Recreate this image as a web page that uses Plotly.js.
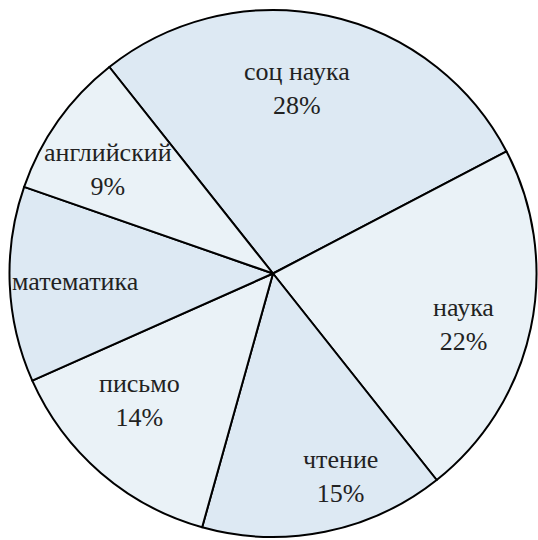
<!DOCTYPE html>
<html>
<head>
<meta charset="utf-8">
<script src="https://cdn.plot.ly/plotly-3.0.1.min.js"></script>
<style>
html,body{margin:0;padding:0;background:#fff;}
#chart{width:538px;height:540px;}
</style>
</head>
<body>
<div id="chart"></div>
<script>
// ---- data ----
var categories = ["соц наука", "наука", "чтение", "письмо", "математика", "английский"];
var shares = [28, 22, 15, 14, 12, 9];
var showPercent = [true, true, true, true, false, true];

// ---- styling ----
var sliceColors = ["#dde9f3", "#eaf2f7", "#dde9f3", "#eaf2f7", "#dde9f3", "#eaf2f7"];
var labelRadius = [0.71, 0.75, 0.81, 0.70, 0.75, 0.74];   // fraction of radius
var labelAngleNudge = [-4.5, 3, -7, 5.5, 0, -3];           // degrees
var startAngle = -38.4;
var W = 538, H = 540;
var M = {l: 9, r: 1, t: 10, b: 3};
var fontFamily = "Times New Roman, Times, serif";

var trace = {
  type: "pie",
  labels: categories,
  values: shares,
  sort: false,
  direction: "clockwise",
  rotation: startAngle,
  textinfo: "none",
  marker: {colors: sliceColors, line: {color: "#000000", width: 2}},
  hoverinfo: "none"
};

var pw = W - M.l - M.r, ph = H - M.t - M.b;
var R = Math.min(pw, ph) / 2;
var cx = M.l + pw / 2, cy = M.t + ph / 2;
var total = shares.reduce(function (a, b) { return a + b; }, 0);
var annotations = [];
var acc = 0;
for (var i = 0; i < shares.length; i++) {
  var frac = shares[i] / total;
  var mid = startAngle + (acc + frac / 2) * 360 + labelAngleNudge[i];
  acc += frac;
  var a = mid * Math.PI / 180;
  var px = cx + labelRadius[i] * R * Math.sin(a);
  var py = cy - labelRadius[i] * R * Math.cos(a);
  var txt = categories[i] + (showPercent[i] ? "<br>" + Math.round(frac * 100) + "%" : "");
  annotations.push({
    xref: "paper", yref: "paper",
    x: (px - M.l) / pw, y: 1 - (py - M.t) / ph,
    xanchor: "center", yanchor: "middle",
    text: txt, showarrow: false,
    font: {family: fontFamily, size: 26}
  });
}

var layout = {
  width: W, height: H,
  margin: M,
  showlegend: false,
  font: {family: fontFamily, color: "#222222"},
  paper_bgcolor: "#ffffff",
  plot_bgcolor: "#ffffff",
  annotations: annotations
};
Plotly.newPlot("chart", [trace], layout, {staticPlot: true});
</script>
</body>
</html>
